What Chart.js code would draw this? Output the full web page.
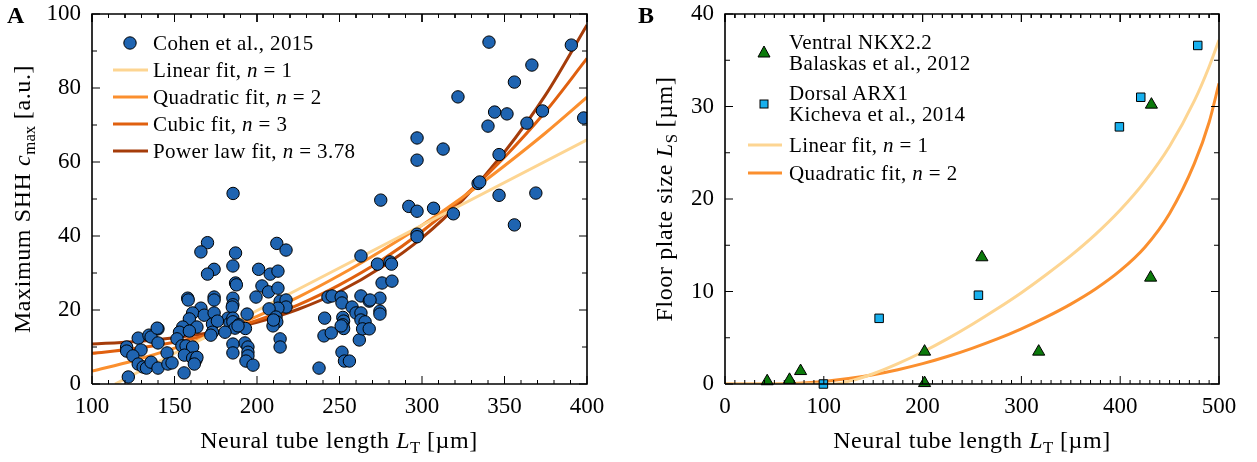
<!DOCTYPE html>
<html><head><meta charset="utf-8">
<script src="https://cdn.jsdelivr.net/npm/chart.js@4.4.1/dist/chart.umd.min.js"></script>
<style>
html,body{margin:0;padding:0;background:#fff;}
#wrap{position:relative;width:1257px;height:462px;overflow:hidden;font-family:'Liberation Serif',serif;color:#000;}
canvas{position:absolute;top:0;}
#cA{left:0;} #cB{left:628px;}
.t{position:absolute;white-space:nowrap;font-size:24px;line-height:1;letter-spacing:0.6px;transform:translate(-50%,-50%);}
.ty{transform:translate(-50%,-50%) rotate(-90deg);}
.leg{position:absolute;white-space:nowrap;font-size:21px;line-height:1;letter-spacing:0.4px;transform:translateY(-50%);}
sub{font-size:0.7em;vertical-align:-0.28em;line-height:0;letter-spacing:0;}
.pl{position:absolute;font-weight:bold;font-size:24px;line-height:1;transform:translateY(-50%);}
.mk{position:absolute;}
</style></head>
<body>
<div id="wrap">
<canvas id="cA" width="620" height="462"></canvas>
<canvas id="cB" width="629" height="462"></canvas>

<div class="pl" style="left:7px;top:15px;">A</div>
<div class="pl" style="left:638px;top:15px;">B</div>

<div class="t ty" style="left:22px;top:199px;">Maximum SHH <i>c</i><sub>max</sub> [a.u.]</div>
<div class="t" style="left:339px;top:440px;">Neural tube length <i>L</i><sub>T</sub> [µm]</div>
<div class="t ty" style="left:664px;top:199px;">Floor plate size <i>L</i><sub>S</sub> [µm]</div>
<div class="t" style="left:972px;top:440px;">Neural tube length <i>L</i><sub>T</sub> [µm]</div>

<svg class="mk" style="left:100px;top:30px" width="60" height="140">
  <circle cx="30" cy="13" r="6.2" fill="#1f64b1" stroke="#000" stroke-width="1"/>
  <line x1="13" x2="48" y1="40" y2="40" stroke="#fdd592" stroke-width="3"/>
  <line x1="13" x2="48" y1="67" y2="67" stroke="#fb8f2e" stroke-width="3"/>
  <line x1="13" x2="48" y1="94" y2="94" stroke="#e0600f" stroke-width="3"/>
  <line x1="13" x2="48" y1="121" y2="121" stroke="#a53c0a" stroke-width="3"/>
</svg>
<div class="leg" style="left:153px;top:43px;">Cohen et al., 2015</div>
<div class="leg" style="left:153px;top:70px;">Linear fit, <i>n</i> = 1</div>
<div class="leg" style="left:153px;top:97px;">Quadratic fit, <i>n</i> = 2</div>
<div class="leg" style="left:153px;top:124px;">Cubic fit, <i>n</i> = 3</div>
<div class="leg" style="left:153px;top:151px;">Power law fit, <i>n</i> = 3.78</div>

<svg class="mk" style="left:740px;top:30px" width="50" height="160">
  <polygon points="24,16 18,27 30,27" fill="#0b7a0b" stroke="#000" stroke-width="1"/>
  <rect x="20" y="70" width="8" height="8" fill="#18b0ee" stroke="#000" stroke-width="1"/>
  <line x1="8" x2="42" y1="115" y2="115" stroke="#fdd592" stroke-width="3"/>
  <line x1="8" x2="42" y1="143" y2="143" stroke="#fb8f2e" stroke-width="3"/>
</svg>
<div class="leg" style="left:789px;top:42px;">Ventral NKX2.2</div>
<div class="leg" style="left:789px;top:63px;">Balaskas et al., 2012</div>
<div class="leg" style="left:789px;top:93px;">Dorsal ARX1</div>
<div class="leg" style="left:789px;top:114px;">Kicheva et al., 2014</div>
<div class="leg" style="left:789px;top:145px;">Linear fit, <i>n</i> = 1</div>
<div class="leg" style="left:789px;top:173px;">Quadratic fit, <i>n</i> = 2</div>
</div>

<script>
// ---------- Panel A data ----------
const cohenLength = [185.5,340.6,390.5,366.6,356,321.8,344,351.5,373,363.6,398,340,297,297,312.8,346.7,334,335,346.7,369,
 275,292,297,307,319,356,297,297,170,212,166,217.6,187,263,273,280.6,281.5,174,185.4,201,
 170,208,212.7,275.8,281.8,187,187.5,203,207,212.7,158,158.3,174,174,185.4,199.4,243,245.5,251,251.5,
 263,274.5,268,268.5,214,217.6,185.4,185,217.6,212.7,207.3,166,257.6,161,168,174,159,182.4,183.6,185.4,
 185.4,189,193,186.7,188.5,194,211.5,212,209.7,210,163.6,155,153,159,173,176,173,172,180.6,151.5,
 140,128,134.5,135.8,140,121,121,129.7,124.8,128,131,133,135.8,140,145.5,146,148.5,154.5,157,161,
 156,161,163,163.6,162,155.8,122,192.7,194.5,194.5,194.5,193.3,197.6,185.4,185.4,214,214,241,252,252.5,
 252,252.5,240.6,245,262,251.5,253,256,237.6,260,263,274.5,274.5,263,265.5,251,264,268,139.5];
const cohenShh = [51.5,92.4,91.6,86.2,81.6,77.6,73.5,73.0,73.8,70.5,71.9,69.7,66.5,60.5,63.5,62,54.2,54.6,51,51.6,
 49.7,48,46.7,47.5,46,43,40.5,39.8,38.2,38,35.7,36.2,35.4,34.6,32.4,33,32.4,31,31.9,31,
 29.7,29.7,30.5,27.3,27.8,27.3,26.8,26.5,24.9,25.9,23.2,22.7,23.5,22.7,23.2,23.5,23.5,23.8,23.5,21.9,
 23.8,23.2,22.4,22.7,22.4,22.7,21.4,20.8,20.8,20.5,20.3,20.5,20.8,19.2,18.6,19.2,17.6,17.8,16.5,17.8,
 16.8,16,15,15.1,15.7,18.9,18.1,16.8,15.7,17.3,15.4,15.4,14,14.3,16.2,17,14,13.2,14,12.2,
 14.9,12.4,13.2,12.7,11.1,10,8.9,9.2,7.6,5.4,4.6,4.3,5.9,4.3,8.4,5.4,5.7,10.3,10.3,10,
 7.8,7,6.5,7.2,5.4,3,1.9,11.1,10,8.6,7.6,6.2,5.1,10.8,8.4,12.2,10,17.8,18,17,
 16,15,13,13.8,11.9,8.6,6.2,6.2,4.3,19.2,19.2,19.7,18.9,17.3,16.8,15.7,14.9,14.9,15.1];

const linearFitAX = [114, 400];
const linearFitAY = [0, 66];
const fitAX      = [100,125,150,175,200,225,250,275,300,325,350,375,400];
const quadFitAY  = [3.5,6.3,9.7,13.7,18.3,23.5,29.4,35.9,42.9,50.6,59.0,67.9,77.5];
const cubicFitAY = [8.3,9.5,11.3,13.8,17.2,21.4,26.8,33.3,41.2,50.5,61.3,73.7,88.0];
const powerFitAY = [10.8,11.4,12.5,14.1,16.7,20.2,25.0,31.4,39.5,49.9,62.7,78.2,97.0];

const ticksAX = [100,150,200,250,300,350,400];
const ticksAY = [0,20,40,60,80,100];

// ---------- Panel B data ----------
const nkxLength = [42.7,65.3,76.5,202,202,260,317.5,430.8,431.6];
const nkxSize   = [0.3,0.45,1.4,3.5,0.1,13.7,3.5,11.5,30.2];
const arxLength = [99.6,156,256.5,399.2,420.8,478.5];
const arxSize   = [0,7.1,9.6,27.8,31.0,36.6];

const linearFitBX = [0,110,125,150,175,200,225,250,275,300,325,350,375,400,425,450,475,490,500];
const linearFitBY = [0,0,0.28,1.11,2.2,3.46,4.88,6.43,8.1,9.87,11.81,13.87,16.17,18.8,21.9,25.7,30.6,34.3,37.2];
const quadFitBX   = [0,48,75,100,125,150,175,200,225,250,275,300,325,350,375,400,425,450,475,490,500];
const quadFitBY   = [0,0,0.08,0.28,0.59,1.01,1.55,2.2,2.97,3.86,4.85,5.97,7.23,8.64,10.27,12.25,14.79,18.44,23.82,28.3,32.5];

const ticksBX = [0,100,200,300,400,500];
const ticksBY = [0,10,20,30,40];

// ---------- helpers ----------
const pts = (xs, ys) => xs.map((x, i) => ({x, y: ys[i]}));
const FONT = {family: "'Liberation Serif', serif", size: 23};

function axes(xmin, xmax, xticks, ymin, ymax, yticks, yWidth) {
  return {
    x: {type: 'linear', min: xmin, max: xmax,
        afterBuildTicks: s => { s.ticks = xticks.map(v => ({value: v})); },
        afterFit: s => { s.height = 78; s.paddingLeft = 0; s.paddingRight = 0; },
        grid: {display: false, drawTicks: false}, border: {display: false},
        ticks: {font: FONT, color: '#000', padding: 9, maxRotation: 0, autoSkip: false}},
    y: {type: 'linear', min: ymin, max: ymax,
        afterBuildTicks: s => { s.ticks = yticks.map(v => ({value: v})); },
        afterFit: s => { s.width = yWidth; s.paddingTop = 0; s.paddingBottom = 0; },
        grid: {display: false, drawTicks: false}, border: {display: false},
        ticks: {font: FONT, color: '#000', padding: 11, autoSkip: false}}
  };
}

const lineDs = (data, color) => ({
  type: 'line', data, borderColor: color, borderWidth: 3, pointRadius: 0,
  showLine: true, fill: false, cubicInterpolationMode: 'monotone'
});

// axis frame and inward tick marks, drawn as library line segments in data space
// (ux, uy: data units per screen pixel for the fixed plot area)
function frameDs(xmin, xmax, ymin, ymax) {
  return {type: 'line', data: [{x: xmin, y: ymin}, {x: xmax, y: ymin}, {x: xmax, y: ymax}, {x: xmin, y: ymax}, {x: xmin, y: ymin}],
    borderColor: '#000', borderWidth: 1.6, pointRadius: 0, tension: 0, cubicInterpolationMode: 'default',
    fill: false, showLine: true, clip: false};
}
function ticksDs(xmin, xmax, xMinor, xMajor, ymin, ymax, yMinor, yMajor, ux, uy) {
  const isMajor = (v, M) => Math.abs(v / M - Math.round(v / M)) < 1e-6;
  const d = [];
  const nx = Math.round((xmax - xmin) / xMinor);
  for (let i = 0; i <= nx; i++) {
    const v = xmin + i * xMinor, L = (isMajor(v, xMajor) ? 8 : 4) * uy;
    d.push({x: v, y: ymin}, {x: v, y: ymin + L}, {x: v, y: null}, {x: v, y: ymax}, {x: v, y: ymax - L}, {x: v, y: null});
  }
  const ny = Math.round((ymax - ymin) / yMinor);
  for (let i = 0; i <= ny; i++) {
    const v = ymin + i * yMinor, L = (isMajor(v, yMajor) ? 8 : 5) * ux;
    d.push({x: xmin, y: v}, {x: xmin + L, y: v}, {x: xmin, y: null}, {x: xmax, y: v}, {x: xmax - L, y: v}, {x: xmax, y: null});
  }
  return {type: 'line', data: d, borderColor: '#000', borderWidth: 1, pointRadius: 0, tension: 0,
    cubicInterpolationMode: 'default', spanGaps: false, fill: false, showLine: true, clip: false};
}

new Chart(document.getElementById('cA'), {
  type: 'scatter',
  data: {datasets: [
    frameDs(100, 400, 0, 100),
    ticksDs(100, 400, 10, 50, 0, 100, 10, 20, 300 / 495, 100 / 370),
    {label: 'Cohen et al., 2015', data: pts(cohenLength, cohenShh), backgroundColor: '#1f64b1',
     borderColor: '#000', borderWidth: 1, pointRadius: 6.2, clip: 0},
    lineDs(pts(linearFitAX, linearFitAY), '#fdd592'),
    lineDs(pts(fitAX, quadFitAY), '#fb8f2e'),
    lineDs(pts(fitAX, cubicFitAY), '#e0600f'),
    lineDs(pts(fitAX, powerFitAY), '#a53c0a')
  ]},
  options: {
    responsive: false, animation: false,
    layout: {padding: {top: 14, right: 33, left: 0, bottom: 0}},
    plugins: {legend: {display: false}, tooltip: {enabled: false}},
    scales: axes(100, 400, ticksAX, 0, 100, ticksAY, 92)
  }
});

new Chart(document.getElementById('cB'), {
  type: 'scatter',
  data: {datasets: [
    frameDs(0, 500, 0, 40),
    ticksDs(0, 500, 10, 100, 0, 40, 5, 10, 500 / 494, 40 / 370),
    {label: 'Ventral NKX2.2', data: pts(nkxLength, nkxSize), pointStyle: 'triangle',
     backgroundColor: '#0b7a0b', borderColor: '#000', borderWidth: 1, pointRadius: 7, clip: false},
    {label: 'Dorsal ARX1', data: pts(arxLength, arxSize), pointStyle: 'rect',
     backgroundColor: '#18b0ee', borderColor: '#000', borderWidth: 1, pointRadius: 6, clip: false},
    lineDs(pts(linearFitBX, linearFitBY), '#fdd592'),
    lineDs(pts(quadFitBX, quadFitBY), '#fb8f2e')
  ]},
  options: {
    responsive: false, animation: false,
    layout: {padding: {top: 14, right: 38, left: 0, bottom: 0}},
    plugins: {legend: {display: false}, tooltip: {enabled: false}},
    scales: axes(0, 500, ticksBX, 0, 40, ticksBY, 97)
  }
});
</script>
</body></html>
